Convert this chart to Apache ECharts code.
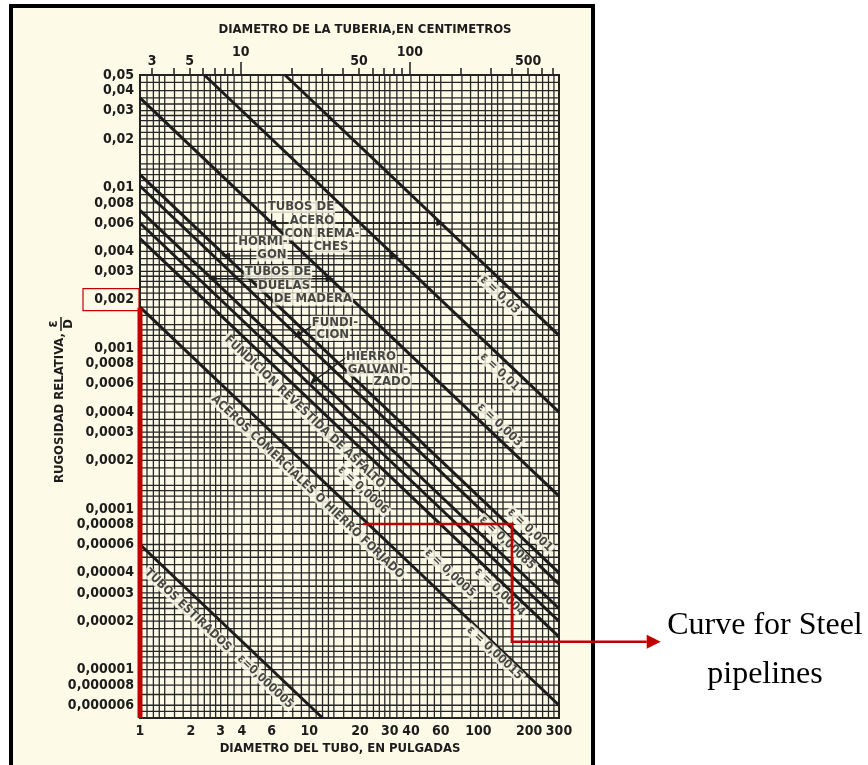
<!DOCTYPE html>
<html><head><meta charset="utf-8">
<script src="https://cdn.jsdelivr.net/npm/echarts@6/dist/echarts.min.js"></script>
<style>html,body{margin:0;padding:0;background:#fff}#c{width:868px;height:765px}</style>
</head><body><div id="c"></div>
<script>
// ---------------- data ----------------
const xTickValues = [1,2,3,4,6,10,20,30,40,60,100,200,300];
const xTickLabels = ['1','2','3','4','6','10','20','30','40','60','100','200','300'];
const yTickValues = [0.05,0.04,0.03,0.02,0.01,0.008,0.006,0.004,0.003,0.002,0.001,0.0008,0.0006,0.0004,0.0003,0.0002,0.0001,0.00008,0.00006,0.00004,0.00003,0.00002,0.00001,0.000008,0.000006];
const yTickLabels = ['0,05','0,04','0,03','0,02','0,01','0,008','0,006','0,004','0,003','0,002','0,001','0,0008','0,0006','0,0004','0,0003','0,0002','0,0001','0,00008','0,00006','0,00004','0,00003','0,00002','0,00001','0,000008','0,000006'];
const cmTickValues = [3,4,5,6,7,8,9,20,30,40,50,60,70,80,90,200,300,400,500,600,700];
const cmLabelValues = [3,5,50,500];
const cmMajorValues = [10,100];

const gridMultipliers = [1,1.1,1.2,1.3,1.4,1.6,1.8,2,2.2,2.4,2.6,2.8,3,3.3,3.6,4,4.5,5,5.5,6,7,8,9];
const xGridDecades = [1,10,100];
const yGridDecades = [0.000001,0.00001,0.0001,0.001,0.01];

// roughness lines  (diameter in inches, relative roughness)
const lineNames  = ['0,03','0,01','0,003','0,001','0,00085','0,0006','0,0005','0,0004','0,00015','0,000005'];
const lineStart  = [[7.2,0.05],[2.4,0.05],[1,0.036],[1,0.012],[1,0.0102],[1,0.0072],[1,0.006],[1,0.0048],[1,0.0018],[1,0.00006]];
const lineEnd    = [[300,0.0012],[300,0.0004],[300,0.00012],[300,0.00004],[300,0.000034],[300,0.000024],[300,0.00002],[300,0.000016],[300,0.000006],[12,0.000005]];

// slanted labels
const slantText = ['ε = 0,03','ε = 0,01','ε = 0,003','ε = 0,001','ε = 0,00085','ε = 0,0006','ε = 0,0005','ε = 0,0004','ε = 0,00015','ε=0,000005','FUNDICION REVESTIDA DE ASFALTO','ACEROS COMERCIALES O HIERRO FORJADO','TUBOS ESTIRADOS'];
const slantX = [134,134,134,202,148,20.8,68,134,125,5.5,9.4,9.8,1.92];
const slantY = [0.00214,0.00071,0.000332,0.0000739,0.0000614,0.000131,0.0000399,0.0000304,0.0000127,0.0000084,0.0004,0.000137,0.0000235];

// horizontal material notes
const noteText = ['TUBOS DE','ACERO','CON REMA-','CHES','HORMI-','GON','TUBOS DE','DUELAS','DE MADERA','FUNDI-','CION','HIERRO','GALVANI-','ZADO'];
const noteX = [8.94,10.39,11.9,13.45,5.33,6.03,6.54,7.10,10.53,14.2,13.8,23.2,25.5,30.9];
const noteY = [0.00755,0.00618,0.00513,0.00426,0.00457,0.0038,0.00297,0.00243,0.00202,0.00145,0.00122,0.00088,0.00073,0.000616];

// leader lines of the notes
const leaderLines = [
  [[6,0.006],[60,0.006]],
  [[3.2,0.00375],[32,0.00375]],
  [[2.67,0.0027],[13.3,0.0027]],
  [[11.3,0.00145],[8.5,0.0012]],
  [[16.7,0.00088],[10.5,0.00062]]
];

// red annotation (steel pipelines)
const steelBar = [[1,0.00178],[1,0.000005]];
const steelPath = [[20.8,0.0000805],[158,0.0000805],[158,0.0000149],[990,0.0000149]];
const markedTick = 0.002;

// ---------------- styles ----------------
const FONT = '"DejaVu Sans Condensed","Liberation Sans Narrow","DejaVu Sans",sans-serif';
const CREAM = '#fdfbe8';
const INK = '#1c1c1c';
const RED = '#c00000';

function lookup(vals, labels) {
  return function (v) {
    for (let i = 0; i < vals.length; i++) {
      if (Math.abs(Math.log10(v) - Math.log10(vals[i])) < 1e-6) return labels[i];
    }
    return '';
  };
}
function inRange(v, a, b) { return v >= a * 0.9999 && v <= b * 1.0001; }

const gridData = [];
xGridDecades.forEach(d => gridMultipliers.forEach(m => { const v = +(d * m).toPrecision(6); if (inRange(v, 1, 300)) gridData.push([0, v, 0.001]); }));
yGridDecades.forEach(d => gridMultipliers.forEach(m => { const v = +(d * m).toPrecision(6); if (inRange(v, 0.000005, 0.05)) gridData.push([1, 10, v]); }));

const chart = echarts.init(document.getElementById('c'), null, { renderer: 'canvas' });

const series = [];
series.push({
  type: 'custom', silent: true, z: 1, clip: false,
  dimensions: ['kind', 'x', 'y'], encode: { x: 1, y: 2 },
  data: gridData,
  renderItem: function (params, api) {
    let p1, p2;
    if (api.value(0) === 0) {
      p1 = api.coord([api.value(1), 0.05]); p2 = api.coord([api.value(1), 0.000005]);
    } else {
      p1 = api.coord([1, api.value(2)]); p2 = api.coord([300, api.value(2)]);
    }
    return { type: 'line', shape: { x1: p1[0], y1: p1[1], x2: p2[0], y2: p2[1] }, style: { stroke: '#262626', lineWidth: 1.3 } };
  }
});
lineNames.forEach((n, i) => {
  series.push({
    type: 'line', name: n, data: [lineStart[i], lineEnd[i]], symbol: 'none', silent: true, z: 3,
    lineStyle: { color: INK, width: 3 }
  });
});
leaderLines.forEach((pts, i) => {
  const horiz = pts[0][1] === pts[1][1];
  series.push({
    type: 'line', data: pts.map((p, j) => ({
      value: p,
      symbol: (horiz || j === 1) ? 'triangle' : 'none',
      symbolSize: [6, 9],
      symbolRotate: horiz ? (j === 0 ? 90 : -90) : 135
    })),
    silent: true, z: 4,
    itemStyle: { color: INK },
    lineStyle: { color: INK, width: 1.4 }
  });
});
series.push({
  type: 'scatter', z: 10, silent: true, symbolSize: 0,
  data: slantText.map((t, i) => ({ name: t, value: [slantX[i], slantY[i]] })),
  label: {
    show: true, formatter: '{b}', position: 'inside', rotate: -43.5,
    fontFamily: FONT, fontSize: 12, fontWeight: 'bold', color: INK, backgroundColor: CREAM, padding: [0, 2]
  }
});
series.push({
  type: 'scatter', z: 10, silent: true, symbolSize: 0,
  data: noteText.map((t, i) => ({ name: t, value: [noteX[i], noteY[i]] })),
  label: {
    show: true, formatter: '{b}', position: 'inside',
    fontFamily: FONT, fontSize: 13, fontWeight: 'bold', color: INK, backgroundColor: CREAM, padding: [0, 1]
  }
});
series.push({
  type: 'line', data: steelBar, symbol: 'none', clip: false, silent: true, z: 20,
  lineStyle: { color: RED, width: 5 }
});

const labelStyle = { fontFamily: FONT, fontSize: 14, fontWeight: 'bold', color: INK };

const baseGraphic = [
  { type: 'rect', z: -100, silent: true, shape: { x: 11, y: 6, width: 582, height: 790 }, style: { fill: CREAM, stroke: '#000', lineWidth: 4 } },
  { type: 'text', z: 50, silent: true, x: 365, y: 30, style: { text: 'DIAMETRO DE LA TUBERIA,EN CENTIMETROS', font: 'bold 13px ' + FONT, fill: INK, align: 'center', verticalAlign: 'middle' } },
  { type: 'text', z: 50, silent: true, x: 340, y: 749, style: { text: 'DIAMETRO DEL TUBO, EN PULGADAS', font: 'bold 13px ' + FONT, fill: INK, align: 'center', verticalAlign: 'middle' } },
  { type: 'text', z: 50, silent: true, x: 60, y: 408, rotation: Math.PI / 2, style: { text: 'RUGOSIDAD RELATIVA,', font: 'bold 13px ' + FONT, fill: INK, align: 'center', verticalAlign: 'middle' } },
  { type: 'text', z: 50, silent: true, x: 53, y: 324, rotation: Math.PI / 2, style: { text: 'ε', font: 'bold 14px ' + FONT, fill: INK, align: 'center', verticalAlign: 'middle' } },
  { type: 'line', z: 50, silent: true, shape: { x1: 61, y1: 317, x2: 61, y2: 331 }, style: { stroke: INK, lineWidth: 1.5 } },
  { type: 'text', z: 50, silent: true, x: 69, y: 324, rotation: Math.PI / 2, style: { text: 'D', font: 'bold 13px ' + FONT, fill: INK, align: 'center', verticalAlign: 'middle' } },
  { type: 'text', z: 50, silent: true, x: 765, y: 626, style: { text: 'Curve for Steel', font: '32px "Liberation Serif","Times New Roman",serif', fill: '#000', align: 'center', verticalAlign: 'middle' } },
  { type: 'text', z: 50, silent: true, x: 765, y: 675, style: { text: 'pipelines', font: '32px "Liberation Serif","Times New Roman",serif', fill: '#000', align: 'center', verticalAlign: 'middle' } }
];

const option = {
  animation: false,
  grid: { left: 140, top: 75, width: 419, height: 643, show: true, borderColor: INK, borderWidth: 2, backgroundColor: 'transparent' },
  xAxis: [
    {
      type: 'log', logBase: 10, min: 1, max: 300, position: 'bottom',
      axisLine: { show: false }, axisTick: { show: false }, splitLine: { show: false },
      axisLabel: Object.assign({ customValues: xTickValues, formatter: lookup(xTickValues, xTickLabels), margin: 6, showMinLabel: true, showMaxLabel: true }, labelStyle)
    },
    {
      type: 'log', logBase: 10, min: 2.54, max: 762, position: 'top',
      axisLine: { show: false }, splitLine: { show: false },
      axisTick: { show: true, customValues: cmTickValues, length: 7, lineStyle: { color: INK, width: 1.5 } },
      axisLabel: Object.assign({ customValues: cmLabelValues, formatter: v => String(Math.round(v)), margin: 7 }, labelStyle)
    },
    {
      type: 'log', logBase: 10, min: 2.54, max: 762, position: 'top',
      axisLine: { show: false }, splitLine: { show: false },
      axisTick: { show: true, customValues: cmMajorValues, length: 13, lineStyle: { color: INK, width: 1.5 } },
      axisLabel: Object.assign({ customValues: cmMajorValues, formatter: v => String(Math.round(v)), margin: 16 }, labelStyle)
    }
  ],
  yAxis: {
    type: 'log', logBase: 10, min: 0.000005, max: 0.05,
    axisLine: { show: false }, axisTick: { show: false }, splitLine: { show: false },
    axisLabel: Object.assign({ customValues: yTickValues, formatter: lookup(yTickValues, yTickLabels), margin: 6, showMinLabel: true, showMaxLabel: true }, labelStyle)
  },
  graphic: baseGraphic,
  series: series
};
chart.setOption(option);

// red annotations positioned through the axes
const yMark = chart.convertToPixel({ yAxisIndex: 0 }, markedTick);
const pathPx = steelPath.map(p => chart.convertToPixel({ xAxisIndex: 0, yAxisIndex: 0 }, p));
const last = pathPx[pathPx.length - 1];
chart.setOption({
  graphic: baseGraphic.concat([
    { type: 'rect', z: 60, silent: true, shape: { x: 83, y: yMark - 11, width: 56, height: 22 }, style: { fill: 'none', stroke: RED, lineWidth: 1.2 } },
    { type: 'polyline', z: 60, silent: true, shape: { points: pathPx }, style: { fill: 'none', stroke: RED, lineWidth: 2.5 } },
    { type: 'polygon', z: 60, silent: true, shape: { points: [[last[0], last[1] - 7], [last[0] + 14, last[1]], [last[0], last[1] + 7]] }, style: { fill: RED } }
  ])
});
</script>
</body></html>
